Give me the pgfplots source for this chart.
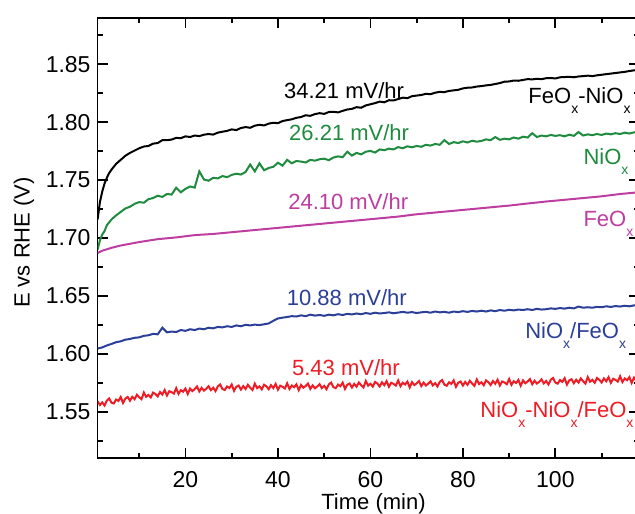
\documentclass[border=0pt]{standalone}
\usepackage{fontspec}
\setmainfont{Liberation Sans}
\usepackage{pgfplots}
\pgfplotsset{compat=1.18}
\definecolor{cgreen}{HTML}{1E8B3E}
\definecolor{cmag}{HTML}{BE3DA0}
\definecolor{cblue}{HTML}{2B3F99}
\definecolor{cred}{HTML}{EE1C25}
\newcommand{\sx}{\raisebox{-5pt}{\fontsize{7}{8}\selectfont x}}
\begin{document}
\begin{tikzpicture}
\useasboundingbox (-48.8pt,-27.5pt) rectangle (268.7pt,229pt);
\clip (-48.8pt,-27.5pt) rectangle (268.7pt,229pt);
\begin{axis}[
  scale only axis, width=270.5pt, height=220pt,
  xmin=1, xmax=118, ymin=1.51, ymax=1.89,
  xtick={20,40,60,80,100}, minor xtick={10,30,50,70,90,110},
  ytick={1.55,1.60,1.65,1.70,1.75,1.80,1.85},
  minor ytick={1.525,1.575,1.625,1.675,1.725,1.775,1.825,1.875},
  yticklabel style={/pgf/number format/.cd, fixed, fixed zerofill, precision=2},
  /pgf/number format/assume math mode=true,
  tick align=inside,
  major tick length=5pt, minor tick length=2.5pt,
  every tick/.style={black, line width=0.9pt},
  axis line style={line width=0.9pt},
  ticklabel style={font=\fontsize{11.5}{13}\selectfont},
  xticklabel style={yshift=-3pt},
  xlabel={Time (min)}, ylabel={E vs RHE (V)},
  xlabel style={font=\fontsize{11}{13}\selectfont, at={(axis description cs:0.51,0)}, anchor=center, yshift=-23pt},
  ylabel style={font=\fontsize{11}{13}\selectfont, at={(axis description cs:-0.136,0.49)}, anchor=center},
  clip=true,
]
% FeOx-NiOx (black)
\addplot[black, line width=1pt] coordinates {
(1,1.716)(1.5,1.731)(2,1.740)(2.5,1.747)(3,1.752)(3.5,1.756)(4,1.759)(5,1.764)(6,1.7675)(7,1.771)
(8,1.7735)(9,1.7755)(10,1.7775)(11,1.779)(12,1.7795)(13,1.7815)(14,1.782)(15,1.7845)(16,1.7845)(17,1.785)
(18,1.7865)(19,1.7862)(20,1.7878)(21,1.7872)(22,1.7885)(23,1.788)(24,1.7892)(25,1.7898)(26,1.7893)(27,1.791)
(28,1.7918)(29,1.7925)(30,1.7938)(31,1.7932)(32,1.795)(33,1.7958)(34,1.7952)(35,1.797)(36,1.7978)(37,1.7972)
(38,1.7988)(39,1.7995)(40,1.7992)(41,1.801)(42,1.8018)(43,1.8025)(44,1.8038)(45,1.8045)(46,1.806)(47,1.8055)
(48,1.807)(49,1.8078)(50,1.8072)(51,1.8088)(52,1.809)(53,1.8085)(54,1.8098)(55,1.811)(56,1.8115)(57,1.813)
(58,1.8125)(59,1.8145)(60,1.8155)(61,1.8165)(62,1.8178)(63,1.8172)(64,1.819)(65,1.8188)(66,1.82)(67,1.8212)
(68,1.8208)(69,1.8225)(70,1.823)(71,1.8235)(72,1.8245)(73,1.8242)(74,1.8255)(75,1.8262)(76,1.826)(77,1.827)
(78,1.8275)(79,1.828)(80,1.8292)(81,1.8298)(82,1.83)(83,1.8308)(84,1.8312)(85,1.8318)(86,1.8322)(87,1.833)
(88,1.8338)(89,1.835)(90,1.8352)(91,1.836)(92,1.8358)(93,1.8365)(94,1.8372)(95,1.837)(96,1.8375)(97,1.8372)
(98,1.838)(99,1.8382)(100,1.8378)(101,1.8388)(102,1.839)(103,1.8392)(104,1.8388)(105,1.8395)(106,1.8398)(107,1.8402)
(108,1.8398)(109,1.8405)(110,1.841)(111,1.8415)(112,1.842)(113,1.8425)(114,1.843)(115,1.8435)(116,1.8442)(117,1.8448)(118,1.845)
};
% NiOx (green)
\addplot[cgreen, line width=1pt] coordinates {
(1,1.690)(1.5,1.698)(2,1.703)(2.5,1.706)(3,1.711)(4,1.716)(5,1.7195)(6,1.7225)(7,1.7255)(8,1.727)
(9,1.7295)(10,1.731)(11,1.7305)(12,1.7335)(13,1.7345)(14,1.7365)(15,1.7355)(16,1.738)(17,1.7375)(18,1.7435)
(19,1.7395)(20,1.7425)(21,1.7445)(22,1.7435)(23,1.7575)(24,1.7505)(25,1.7495)(26,1.752)(27,1.7515)(28,1.7535)
(29,1.7525)(30,1.7545)(31,1.7555)(32,1.7548)(33,1.757)(34,1.7635)(35,1.7575)(36,1.7645)(37,1.7585)(38,1.7605)
(39,1.7615)(40,1.765)(41,1.7625)(42,1.7675)(43,1.7645)(44,1.7665)(45,1.766)(46,1.7652)(47,1.7675)(48,1.7668)
(49,1.768)(50,1.7685)(51,1.7672)(52,1.7695)(53,1.7705)(54,1.7698)(55,1.7745)(56,1.7712)(57,1.7735)(58,1.7722)
(59,1.7745)(60,1.7752)(61,1.7738)(62,1.7765)(63,1.7758)(64,1.7772)(65,1.7765)(66,1.7785)(67,1.7775)(68,1.7792)
(69,1.7783)(70,1.7795)(71,1.7788)(72,1.7805)(73,1.7798)(74,1.7812)(75,1.7805)(76,1.7845)(77,1.7812)(78,1.7828)
(79,1.782)(80,1.7835)(81,1.7825)(82,1.784)(83,1.7832)(84,1.7838)(85,1.7852)(86,1.7845)(87,1.7872)(88,1.7848)
(89,1.7858)(90,1.7852)(91,1.7868)(92,1.7858)(93,1.7875)(94,1.7868)(95,1.7905)(96,1.7872)(97,1.7885)(98,1.7878)
(99,1.789)(100,1.7882)(101,1.7888)(102,1.7878)(103,1.7892)(104,1.7882)(105,1.7915)(106,1.7885)(107,1.7895)(108,1.7888)
(109,1.7898)(110,1.789)(111,1.7902)(112,1.7895)(113,1.7905)(114,1.7898)(115,1.791)(116,1.7902)(117,1.7912)(118,1.7908)
};
% FeOx (magenta)
\addplot[cmag, line width=1pt] coordinates {
(1,1.687)(2,1.689)(4,1.6915)(6,1.6935)(8,1.695)(10,1.6965)(14,1.699)(18,1.7005)(22,1.7025)(26,1.7035)
(30,1.705)(34,1.7065)(38,1.708)(42,1.7095)(46,1.711)(50,1.7125)(54,1.714)(58,1.7155)(62,1.717)(66,1.7185)
(70,1.7205)(74,1.722)(78,1.7235)(82,1.725)(86,1.7265)(90,1.728)(94,1.7298)(98,1.7315)(102,1.733)(106,1.7345)
(110,1.736)(114,1.738)(118,1.7395)
};
% NiOx/FeOx (blue)
\addplot[cblue, line width=1pt] coordinates {
(1,1.6045)(2,1.6055)(3,1.6072)(4,1.6085)(5,1.610)(6,1.6108)(7,1.6122)(8,1.6128)(9,1.6138)(10,1.6142)
(11,1.6155)(12,1.616)(13,1.6172)(14,1.6168)(15,1.6225)(16,1.6185)(17,1.6192)(18,1.6188)(19,1.6205)(20,1.6198)
(21,1.6212)(22,1.6205)(23,1.6218)(24,1.6212)(25,1.6225)(26,1.622)(27,1.6232)(28,1.6228)(29,1.6238)(30,1.6232)
(31,1.6245)(32,1.6238)(33,1.625)(34,1.6245)(35,1.6252)(36,1.6248)(37,1.6255)(38,1.6262)(39,1.6285)(40,1.6305)
(41,1.6312)(42,1.6318)(43,1.6325)(44,1.6322)(45,1.6332)(46,1.6325)(47,1.6338)(48,1.633)(49,1.6335)(50,1.6328)
(51,1.6338)(52,1.6332)(53,1.6342)(54,1.6335)(55,1.6345)(56,1.634)(57,1.6348)(58,1.6342)(59,1.6352)(60,1.6345)
(61,1.6355)(62,1.6348)(63,1.6352)(64,1.6358)(65,1.635)(66,1.6356)(67,1.6362)(68,1.6355)(69,1.636)(70,1.6352)
(71,1.6358)(72,1.6362)(73,1.6355)(74,1.6365)(75,1.6358)(76,1.6362)(77,1.6355)(78,1.6365)(79,1.636)(80,1.6368)
(81,1.6362)(82,1.637)(83,1.6365)(84,1.6372)(85,1.6365)(86,1.6375)(87,1.6368)(88,1.6378)(89,1.6372)(90,1.638)
(91,1.6375)(92,1.6382)(93,1.6378)(94,1.6385)(95,1.6378)(96,1.6388)(97,1.6382)(98,1.6385)(99,1.6392)(100,1.6388)
(101,1.6395)(102,1.639)(103,1.6398)(104,1.6392)(105,1.6408)(106,1.6398)(107,1.6402)(108,1.6398)(109,1.6405)(110,1.6402)
(111,1.641)(112,1.6405)(113,1.6412)(114,1.6408)(115,1.6415)(116,1.641)(117,1.6418)(118,1.6422)
};
% NiOx-NiOx/FeOx (red)
\addplot[cred, line width=1pt] coordinates {
(1.0,1.5590)(1.5,1.5558)(2.0,1.5580)(2.5,1.5553)(3.0,1.5595)(3.5,1.5614)(4.0,1.5578)(4.5,1.5571)(5.0,1.5605)(5.5,1.5593)
(6.0,1.5627)(6.5,1.5575)(7.0,1.5613)(7.5,1.5627)(8.0,1.5595)(8.5,1.5629)(9.0,1.5608)(9.5,1.5646)(10.0,1.5625)(10.5,1.5608)
(11.0,1.5665)(11.5,1.5628)(12.0,1.5645)(12.5,1.5623)(13.0,1.5665)(13.5,1.5653)(14.0,1.5632)(14.5,1.5670)(15.0,1.5648)(15.5,1.5687)
(16.0,1.5640)(16.5,1.5677)(17.0,1.5669)(17.5,1.5656)(18.0,1.5703)(18.5,1.5654)(19.0,1.5686)(19.5,1.5673)(20.0,1.5700)(20.5,1.5653)
(21.0,1.5700)(21.5,1.5678)(22.0,1.5695)(22.5,1.5718)(23.0,1.5675)(23.5,1.5706)(24.0,1.5682)(24.5,1.5698)(25.0,1.5720)(25.5,1.5686)
(26.0,1.5707)(26.5,1.5678)(27.0,1.5719)(27.5,1.5735)(28.0,1.5696)(28.5,1.5687)(29.0,1.5718)(29.5,1.5704)(30.0,1.5735)(30.5,1.5680)
(31.0,1.5715)(31.5,1.5726)(32.0,1.5691)(32.5,1.5721)(33.0,1.5696)(33.5,1.5732)(34.0,1.5707)(34.5,1.5687)(35.0,1.5742)(35.5,1.5703)
(36.0,1.5718)(36.5,1.5693)(37.0,1.5733)(37.5,1.5719)(38.0,1.5694)(38.5,1.5729)(39.0,1.5704)(39.5,1.5740)(40.0,1.5690)(40.5,1.5725)
(41.0,1.5715)(41.5,1.5700)(42.0,1.5745)(42.5,1.5696)(43.0,1.5726)(43.5,1.5711)(44.0,1.5736)(44.5,1.5686)(45.0,1.5731)(45.5,1.5707)
(46.0,1.5722)(46.5,1.5742)(47.0,1.5697)(47.5,1.5727)(48.0,1.5702)(48.5,1.5718)(49.0,1.5738)(49.5,1.5703)(50.0,1.5723)(50.5,1.5694)
(51.0,1.5735)(51.5,1.5751)(52.0,1.5712)(52.5,1.5703)(53.0,1.5734)(53.5,1.5720)(54.0,1.5751)(54.5,1.5697)(55.0,1.5733)(55.5,1.5743)
(56.0,1.5709)(56.5,1.5740)(57.0,1.5716)(57.5,1.5752)(58.0,1.5728)(58.5,1.5709)(59.0,1.5765)(59.5,1.5725)(60.0,1.5741)(60.5,1.5717)
(61.0,1.5757)(61.5,1.5743)(62.0,1.5718)(62.5,1.5754)(63.0,1.5729)(63.5,1.5764)(64.0,1.5715)(64.5,1.5750)(65.0,1.5740)(65.5,1.5725)
(66.0,1.5770)(66.5,1.5720)(67.0,1.5750)(67.5,1.5735)(68.0,1.5760)(68.5,1.5710)(69.0,1.5755)(69.5,1.5730)(70.0,1.5745)(70.5,1.5765)
(71.0,1.5721)(71.5,1.5751)(72.0,1.5726)(72.5,1.5742)(73.0,1.5762)(73.5,1.5727)(74.0,1.5747)(74.5,1.5718)(75.0,1.5758)(75.5,1.5773)
(76.0,1.5734)(76.5,1.5724)(77.0,1.5754)(77.5,1.5740)(78.0,1.5770)(78.5,1.5715)(79.0,1.5751)(79.5,1.5761)(80.0,1.5726)(80.5,1.5757)
(81.0,1.5732)(81.5,1.5767)(82.0,1.5743)(82.5,1.5723)(83.0,1.5778)(83.5,1.5739)(84.0,1.5754)(84.5,1.5729)(85.0,1.5770)(85.5,1.5755)
(86.0,1.5730)(86.5,1.5765)(87.0,1.5741)(87.5,1.5776)(88.0,1.5726)(88.5,1.5761)(89.0,1.5752)(89.5,1.5737)(90.0,1.5782)(90.5,1.5732)
(91.0,1.5763)(91.5,1.5748)(92.0,1.5774)(92.5,1.5724)(93.0,1.5770)(93.5,1.5745)(94.0,1.5761)(94.5,1.5781)(95.0,1.5737)(95.5,1.5767)
(96.0,1.5743)(96.5,1.5758)(97.0,1.5779)(97.5,1.5744)(98.0,1.5765)(98.5,1.5735)(99.0,1.5776)(99.5,1.5791)(100.0,1.5752)(100.5,1.5742)
(101.0,1.5773)(101.5,1.5758)(102.0,1.5789)(102.5,1.5734)(103.0,1.5770)(103.5,1.5780)(104.0,1.5746)(104.5,1.5776)(105.0,1.5752)(105.5,1.5787)
(106.0,1.5763)(106.5,1.5743)(107.0,1.5799)(107.5,1.5759)(108.0,1.5775)(108.5,1.5750)(109.0,1.5791)(109.5,1.5776)(110.0,1.5752)(110.5,1.5787)
(111.0,1.5763)(111.5,1.5798)(112.0,1.5749)(112.5,1.5784)(113.0,1.5775)(113.5,1.5760)(114.0,1.5806)(114.5,1.5756)(115.0,1.5787)(115.5,1.5772)
(116.0,1.5798)(116.5,1.5748)(117.0,1.5794)(117.5,1.5769)(118.0,1.5785)
};
% rate annotations
\begin{scope}[every node/.style={font=\fontsize{11}{13}\selectfont, inner sep=0pt}]
\node[black] at (axis cs:54.3,1.8273) {34.21 mV/hr};
\node[cgreen] at (axis cs:55.4,1.7909) {26.21 mV/hr};
\node[cmag] at (axis cs:55.2,1.7311) {24.10 mV/hr};
\node[cblue] at (axis cs:54.9,1.6488) {10.88 mV/hr};
\node[cred] at (axis cs:54.7,1.5881) {5.43 mV/hr};
\node[black, anchor=base west] at (axis cs:94.1,1.816) {FeO\sx-NiO\sx};
\node[cgreen, anchor=base west] at (axis cs:106,1.7632) {NiO\sx};
\node[cmag, anchor=base west] at (axis cs:106,1.7097) {FeO\sx};
\node[cblue, anchor=base west] at (axis cs:93.4,1.613) {NiO\sx/FeO\sx};
\node[cred, anchor=base west] at (axis cs:83.7,1.545) {NiO\sx-NiO\sx/FeO\sx};
\end{scope}
\end{axis}
\end{tikzpicture}
\end{document}
